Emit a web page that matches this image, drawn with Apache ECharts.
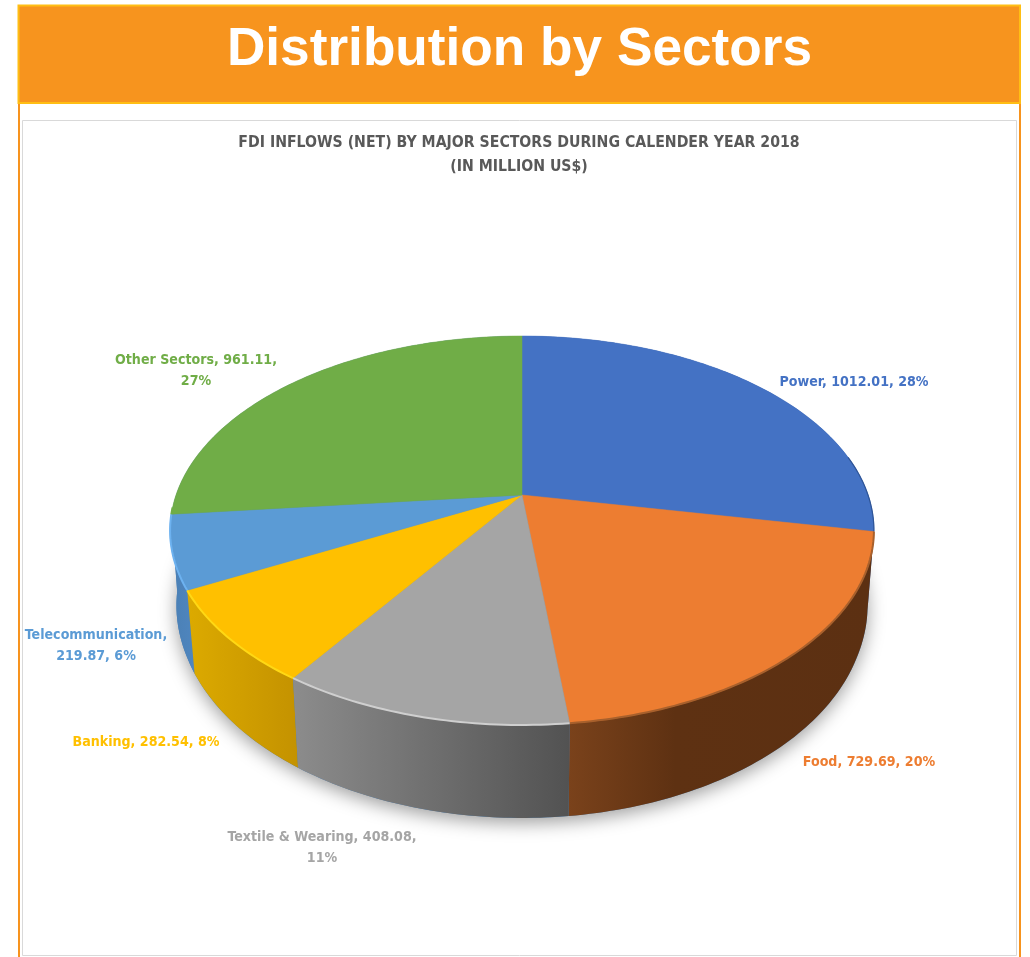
<!DOCTYPE html>
<html>
<head>
<meta charset="utf-8">
<script src="https://cdn.jsdelivr.net/npm/echarts@6/dist/echarts.min.js"></script>
<style>html,body{margin:0;padding:0;background:#fff}#c{width:1030px;height:957px}</style>
</head>
<body>
<div id="c"></div>
<script>
// --- data ---
const categories = ['Power', 'Food', 'Textile & Wearing', 'Banking', 'Telecommunication', 'Other Sectors'];
const values = [1012.01, 729.69, 408.08, 282.54, 219.87, 961.11];
const labelBreakAfter = [99, 99, 2, 99, 1, 2]; // comma-separated part after which the label wraps
// --- styles ---
const topColors = ['#4472C4', '#ED7D31', '#A5A5A5', '#FFC000', '#5B9BD5', '#70AD47'];
const wallStops = [
  [[0, '#2f5597'], [1, '#2f5597']],
  [[0, '#7a421b'], [0.35, '#5e3112'], [1, '#5c3012']],
  [[0, '#8c8c8c'], [1, '#525252']],
  [[0, '#dcaa00'], [1, '#c49200']],
  [[0, '#4a7fb4'], [1, '#4f86bf']],
  [[0, '#4a7fb4'], [1, '#4a7fb4']]
];
const bevelColors = ['#2f5597', '#a8602c', '#cfcfcf', '#ffd814', '#6db2f0', '#70AD47'];
const labelCentres = [[854, 382], [869, 762], [322, 848], [146, 742], [96, 646], [196, 371]];
const LABEL_FONT = '"DejaVu Sans Condensed", "DejaVu Sans", sans-serif';

// --- perspective pie geometry ---
const PIE = {cx: 522, cy: 495, a: 346, b: 188, k: 0.1825, depth: 76};
const total = values.reduce((s, v) => s + v, 0);
const cum = [0];
values.forEach((v, i) => cum.push(cum[i] + v));
const toDeg = v => v / total * 360;
function topPt(deg) {
  const t = deg * Math.PI / 180, u = Math.sin(t), v = -Math.cos(t), w = 1 - PIE.k * v;
  return [PIE.cx + PIE.a * u / w, PIE.cy + PIE.b * v / w];
}
function botPt(deg) {
  const t = deg * Math.PI / 180, v = -Math.cos(t), w = 1 - PIE.k * v;
  const p = topPt(deg);
  const taper = 0.985 - 0.007 * Math.min(1, Math.abs(v) / 0.4);
  return [PIE.cx + (p[0] - PIE.cx) * taper, p[1] + PIE.depth / w];
}
function arc(fn, from, to) {
  const pts = [], n = Math.max(2, Math.ceil(Math.abs(to - from)));
  for (let i = 0; i <= n; i++) pts.push(fn(from + (to - from) * i / n));
  return pts;
}
function labelText(i) {
  const parts = [categories[i], String(values[i]), Math.round(values[i] / total * 100) + '%'];
  let s = '';
  parts.forEach((p, j) => {
    s += p;
    if (j < 2) s += ',' + (labelBreakAfter[i] === j + 1 ? '\n' : ' ');
  });
  return s;
}
// walls are painted back to front
const wallOrder = [0, 5, 4, 1, 3, 2];

const chart = echarts.init(document.getElementById('c'), null, {renderer: 'canvas'});
chart.setOption({
  animation: false,
  backgroundColor: '#fff',
  tooltip: {show: false},
  title: [
    {text: 'Distribution by Sectors', left: 519.5, top: 20, padding: 0, textAlign: 'center',
     textStyle: {color: '#fff', fontFamily: '"Liberation Sans", Arial, sans-serif', fontWeight: 'bold', fontSize: 53.2, lineHeight: 60}, z: 10},
    {text: 'FDI INFLOWS (NET) BY MAJOR SECTORS DURING CALENDER YEAR 2018\n(IN MILLION US$)', left: 519, top: 131, padding: 0, textAlign: 'center',
     textStyle: {color: '#595959', fontFamily: LABEL_FONT, fontWeight: 'bold', fontSize: 15.7, lineHeight: 24}, z: 10}
  ],
  graphic: [
    {type: 'rect', z: 0, shape: {x: 18, y: 100, width: 2, height: 857}, style: {fill: '#F7931E'}},
    {type: 'rect', z: 0, shape: {x: 1019, y: 100, width: 2, height: 857}, style: {fill: '#F7931E'}},
    {type: 'rect', z: 0, shape: {x: 22.5, y: 120.5, width: 994, height: 835}, style: {fill: '#fff', stroke: '#D9D9D9', lineWidth: 1}},
    {type: 'rect', z: 1, shape: {x: 18.5, y: 5.5, width: 1001.5, height: 97.5}, style: {fill: '#F7941E', stroke: '#FFBE14', lineWidth: 2}}
  ],
  series: [
    {
      type: 'custom', coordinateSystem: 'none', silent: true, z: 2, clip: false,
      data: wallOrder.map(i => values[i]),
      renderItem(params) {
        const i = wallOrder[params.dataIndex], from = toDeg(cum[i]), to = toDeg(cum[i + 1]);
        const children = [];
        if (params.dataIndex === 0) {
          children.push({type: 'polygon', shape: {points: arc(botPt, 0, 360)},
            style: {fill: '#4a7fb4', shadowBlur: 18, shadowColor: 'rgba(0,0,0,0.38)', shadowOffsetY: 5}});
        }
        children.push({type: 'polygon',
          shape: {points: arc(topPt, from, to).concat(arc(botPt, to, from))},
          style: {fill: new echarts.graphic.LinearGradient(0, 0, 1, 0, wallStops[i].map(s => ({offset: s[0], color: s[1]})))}});
        return {type: 'group', children};
      }
    },
    {
      type: 'custom', coordinateSystem: 'none', silent: true, z: 3, clip: false,
      data: values,
      renderItem(params) {
        const i = params.dataIndex, from = toDeg(cum[i]), to = toDeg(cum[i + 1]);
        return {type: 'group', children: [{
          type: 'polygon',
          shape: {points: [[PIE.cx, PIE.cy]].concat(arc(topPt, from, to))},
          style: {fill: topColors[i], stroke: topColors[i], lineWidth: 0.5}
        }]};
      }
    },
    {
      type: 'custom', coordinateSystem: 'none', silent: true, z: 4, clip: false,
      data: values,
      renderItem(params) {
        const i = params.dataIndex, from = toDeg(cum[i]), to = toDeg(cum[i + 1]);
        const bevelFrom = i === 0 ? 78 : from, bevelTo = i === 5 ? from + 2 : to;
        return {type: 'group', children: [
          {type: 'polyline', shape: {points: arc(topPt, bevelFrom, bevelTo)},
           style: {fill: null, stroke: bevelColors[i], lineWidth: i === 0 ? 1.2 : 2}},
          {type: 'text', style: {
            text: labelText(i), x: labelCentres[i][0], y: labelCentres[i][1], align: 'center', verticalAlign: 'middle',
            fill: topColors[i], fontFamily: LABEL_FONT, fontWeight: 'bold', fontSize: 14.1, lineHeight: 21
          }}
        ]};
      }
    }
  ]
});
</script>
</body>
</html>
